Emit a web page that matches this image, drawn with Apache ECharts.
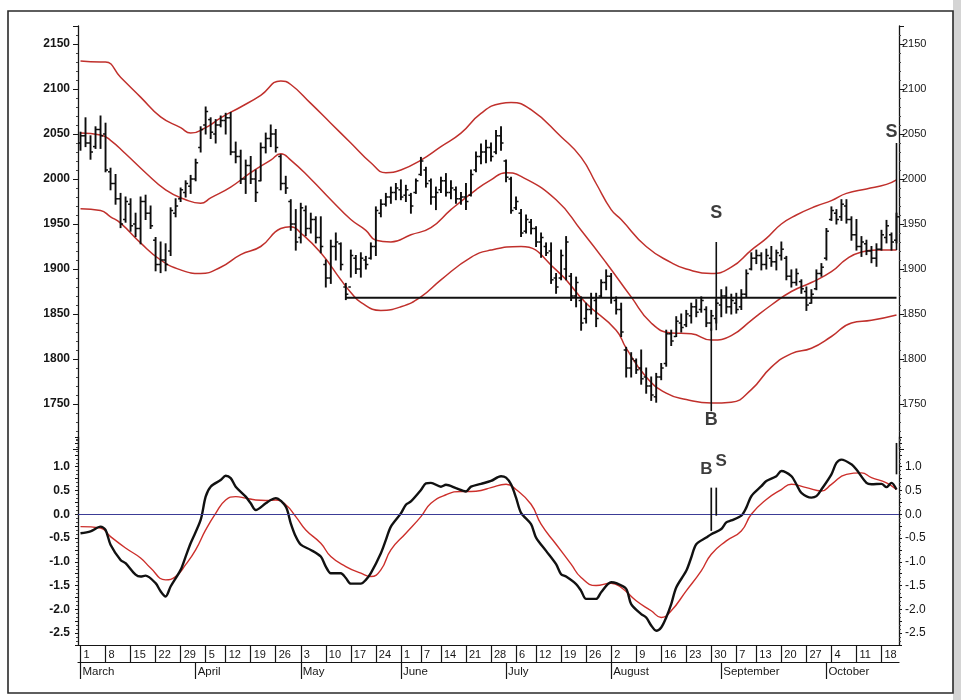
<!DOCTYPE html>
<html><head><meta charset="utf-8">
<script src="https://cdn.jsdelivr.net/npm/echarts@6/dist/echarts.min.js"></script>
<style>html,body{margin:0;padding:0;background:#fff}#c{width:961px;height:700px}</style>
</head><body><div id="c"></div>
<script>
// ---- categories: trading days (2004) ----
const dates = [
'3/1','3/2','3/3','3/4','3/5','3/8','3/9','3/10','3/11','3/12','3/15','3/16','3/17','3/18','3/19','3/22','3/23','3/24','3/25','3/26','3/29','3/30','3/31',
'4/1','4/2','4/5','4/6','4/7','4/8','4/12','4/13','4/14','4/15','4/16','4/19','4/20','4/21','4/22','4/23','4/26','4/27','4/28','4/29','4/30',
'5/3','5/4','5/5','5/6','5/7','5/10','5/11','5/12','5/13','5/14','5/17','5/18','5/19','5/20','5/21','5/24','5/25','5/26','5/27','5/28',
'6/1','6/2','6/3','6/4','6/7','6/8','6/9','6/10','6/14','6/15','6/16','6/17','6/18','6/21','6/22','6/23','6/24','6/25','6/28','6/29','6/30',
'7/1','7/2','7/6','7/7','7/8','7/9','7/12','7/13','7/14','7/15','7/16','7/19','7/20','7/21','7/22','7/23','7/26','7/27','7/28','7/29','7/30',
'8/2','8/3','8/4','8/5','8/6','8/9','8/10','8/11','8/12','8/13','8/16','8/17','8/18','8/19','8/20','8/23','8/24','8/25','8/26','8/27','8/30','8/31',
'9/1','9/2','9/3','9/7','9/8','9/9','9/10','9/13','9/14','9/15','9/16','9/17','9/20','9/21','9/22','9/23','9/24','9/27','9/28','9/29','9/30',
'10/1','10/4','10/5','10/6','10/7','10/8','10/11','10/12','10/13','10/14','10/15','10/18','10/19','10/20','10/21'
];
const monthNames = ['January','February','March','April','May','June','July','August','September','October','November','December'];

// ---- price bars ----
const opens = [2040,2048,2040,2036,2055,2050,2008,1995,1978,1955,1972,1950,1945,1975,1962,1932,1905,1910,1920,1962,1978,1985,1992,2000,2035,2060,2066,2050,2060,2065,
2068,2030,2025,2000,2015,2000,1998,2035,2045,2050,2025,1995,1975,1950,1935,1965,1945,1955,1935,1905,1890,1925,1928,1880,1880,1912,1900,1910,1912,1925,
1962,1972,1980,1985,1988,1982,1982,1985,2005,2010,1998,1980,1988,1998,1985,1988,1978,1980,1982,2010,2025,2030,2035,2030,2048,2020,2000,1968,1962,1942,
1952,1945,1930,1925,1920,1890,1890,1900,1892,1870,1865,1845,1855,1865,1870,1885,1892,1865,1855,1810,1790,1798,1790,1780,1770,1758,1780,1795,1828,1825,
1840,1838,1848,1858,1855,1855,1840,1845,1860,1870,1858,1862,1858,1872,1900,1912,1915,1905,1912,1908,1915,1912,1892,1885,1886,1875,1862,1878,1895,1912,
1955,1962,1958,1970,1955,1938,1925,1928,1920,1912,1922,1935,1938,1932];
const highs = [2052,2068,2048,2058,2070,2062,2012,2005,1984,1980,1978,1962,1980,1982,1970,1935,1930,1928,1968,1978,1990,1998,2004,2022,2058,2080,2068,2066,2070,2073,
2074,2041,2032,2021,2025,2010,2040,2051,2060,2055,2027,2003,1977,1966,1973,1970,1962,1958,1958,1910,1932,1940,1929,1884,1921,1915,1918,1914,1929,1969,
1977,1984,1991,1995,1999,1993,1984,2000,2024,2013,2000,1991,2002,2006,1998,1991,1985,1995,2010,2030,2039,2043,2040,2054,2058,2021,2002,1980,1966,1960,
1955,1947,1940,1929,1929,1895,1921,1936,1895,1891,1869,1862,1873,1873,1888,1899,1895,1869,1862,1813,1807,1800,1810,1790,1780,1784,1795,1832,1832,1847,
1850,1854,1862,1866,1869,1858,1854,1866,1877,1880,1872,1873,1877,1899,1918,1921,1918,1922,1925,1921,1930,1914,1899,1900,1888,1880,1877,1899,1906,1945,
1969,1966,1977,1977,1958,1955,1936,1932,1925,1928,1943,1954,1940,1962];
const lows = [2032,2036,2022,2034,2034,2008,1988,1972,1946,1952,1942,1936,1928,1955,1945,1898,1896,1898,1915,1958,1975,1980,1984,1998,2030,2050,2045,2040,2058,2050,
2027,2018,1995,1984,1995,1975,1998,2029,2036,2030,1988,1984,1943,1921,1929,1937,1940,1929,1918,1880,1884,1910,1899,1866,1891,1895,1891,1900,1911,1915,
1958,1970,1973,1977,1977,1975,1962,1984,2004,1991,1972,1966,1985,1981,1978,1973,1972,1966,1981,2008,2017,2018,2020,2028,2032,1997,1962,1966,1936,1940,
1939,1925,1913,1915,1884,1873,1888,1888,1865,1858,1832,1840,1850,1836,1869,1877,1862,1850,1825,1780,1780,1784,1772,1762,1754,1752,1777,1792,1815,1825,
1830,1836,1840,1847,1852,1836,1832,1840,1847,1851,1850,1851,1855,1869,1899,1906,1899,1900,1903,1899,1910,1888,1880,1882,1873,1854,1862,1877,1892,1910,
1954,1950,1954,1951,1932,1921,1914,1916,1907,1903,1921,1929,1921,1929];
const closes = [2048,2040,2030,2055,2048,2010,1995,1978,1950,1975,1948,1945,1975,1962,1948,1905,1910,1905,1965,1970,1988,1995,2000,2018,2055,2075,2052,2060,2065,2068,
2030,2025,2000,2015,2000,1985,2035,2045,2050,2035,1995,1990,1950,1930,1968,1945,1955,1935,1925,1890,1925,1930,1905,1872,1915,1900,1912,1905,1925,1965,
1972,1980,1985,1990,1980,1988,1970,1998,2020,1995,1980,1985,1998,1985,1990,1978,1980,1975,2005,2025,2030,2035,2025,2048,2040,2002,1965,1975,1940,1955,
1945,1930,1935,1918,1888,1880,1915,1930,1870,1885,1840,1855,1868,1845,1885,1892,1868,1855,1830,1790,1800,1788,1778,1770,1760,1780,1790,1828,1820,1842,
1835,1850,1858,1852,1865,1840,1848,1862,1870,1858,1865,1855,1872,1895,1912,1915,1905,1915,1908,1918,1922,1892,1885,1895,1878,1860,1872,1895,1902,1942,
1965,1955,1972,1955,1938,1925,1930,1920,1912,1922,1938,1948,1930,1958];

// ---- envelope bands [dayIndex, value] ----
const upperBand = [[0,2131],[4,2130],[5,2130],[8,2113],[12,2091],[16,2069],[20,2057],[22,2051],[25,2057],[28,2068],[32,2080],[36,2093],[40,2109],[42,2105],[46,2084],[50,2062],[54,2040],[58,2018],[61,2007],[64,2010],[68,2021],[72,2036],[76,2051],[80,2073],[84,2084],[86,2085],[90,2077],[96,2047],[100,2024],[103,1995],[106,1966],[108,1955],[113,1925],[118,1907],[121,1900],[126,1895],[130,1902],[134,1921],[137,1934],[140,1950],[143,1960],[147,1970],[150,1976],[153,1984],[157,1989],[161,1994],[163,1999]];
const middleBand = [[0,2051],[4,2049],[6,2043],[9,2028],[13,2007],[17,1988],[21,1977],[24,1973],[26,1979],[30,1991],[34,2007],[38,2021],[40,2028],[42,2021],[46,2000],[50,1977],[54,1955],[57,1943],[59,1932],[62,1930],[66,1938],[70,1946],[74,1966],[79,1988],[82,1999],[85,2007],[88,2003],[95,1977],[100,1943],[105,1907],[110,1869],[114,1840],[118,1829],[122,1828],[126,1821],[130,1826],[134,1843],[138,1860],[142,1875],[146,1885],[150,1897],[153,1911],[156,1919],[159,1921],[163,1921]];
const lowerBand = [[0,1967],[4,1965],[6,1958],[8,1951],[12,1929],[16,1910],[20,1899],[24,1895],[28,1902],[32,1916],[36,1925],[40,1945],[42,1947],[44,1940],[48,1918],[52,1888],[54,1874],[56,1863],[60,1854],[64,1858],[68,1869],[72,1888],[78,1913],[82,1921],[88,1925],[95,1899],[101,1862],[107,1832],[109,1812],[113,1780],[117,1762],[121,1755],[126,1751],[130,1752],[134,1766],[138,1791],[142,1806],[146,1812],[150,1825],[154,1840],[158,1843],[163,1849]];
const supportLine = [[53,1868],[163,1868]];

// ---- oscillator [dayIndex, value] ----
const oscFast = [[0,-0.40],[2,-0.36],[4,-0.26],[5,-0.33],[6,-0.64],[8,-0.96],[9,-1.03],[11,-1.27],[12,-1.31],[13,-1.29],[15,-1.45],[16,-1.62],[17,-1.73],[18,-1.52],[20,-1.17],[21,-0.89],[22,-0.61],[24,-0.12],[25,0.37],[26,0.58],[28,0.72],[29,0.81],[30,0.76],[31,0.58],[33,0.37],[34,0.23],[35,0.09],[37,0.23],[38,0.30],[39,0.34],[41,0.16],[42,-0.19],[43,-0.47],[44,-0.64],[46,-0.75],[48,-0.89],[49,-1.10],[50,-1.24],[52,-1.24],[53,-1.34],[54,-1.46],[56,-1.46],[57,-1.38],[58,-1.24],[60,-0.82],[61,-0.54],[62,-0.26],[64,0.02],[65,0.20],[66,0.27],[68,0.51],[69,0.65],[70,0.66],[72,0.58],[73,0.62],[75,0.55],[77,0.48],[78,0.58],[80,0.64],[82,0.70],[84,0.80],[85,0.77],[86,0.63],[87,0.35],[88,0.03],[90,-0.21],[91,-0.49],[93,-0.77],[95,-1.05],[96,-1.26],[97,-1.31],[99,-1.47],[100,-1.61],[101,-1.78],[103,-1.78],[104,-1.64],[106,-1.43],[107,-1.45],[109,-1.57],[110,-1.89],[112,-2.10],[113,-2.17],[114,-2.34],[115,-2.45],[116,-2.38],[117,-2.17],[118,-1.89],[119,-1.54],[121,-1.19],[122,-0.91],[123,-0.63],[125,-0.49],[126,-0.42],[128,-0.31],[129,-0.17],[130,-0.13],[132,-0.03],[133,0.14],[134,0.38],[136,0.59],[137,0.70],[139,0.80],[140,0.91],[142,0.80],[143,0.63],[144,0.45],[146,0.35],[147,0.38],[148,0.52],[150,0.84],[151,1.08],[152,1.15],[154,1.05],[155,0.94],[157,0.66],[158,0.63],[160,0.64],[161,0.57],[162,0.66],[163,0.52]];
const oscSlow = [[0,-0.26],[4,-0.29],[6,-0.47],[9,-0.71],[12,-0.92],[14,-1.13],[17,-1.38],[19,-1.31],[21,-1.06],[23,-0.75],[25,-0.33],[27,0.02],[29,0.30],[31,0.37],[33,0.34],[35,0.30],[37,0.29],[39,0.30],[41,0.20],[43,-0.05],[45,-0.33],[48,-0.61],[50,-0.89],[53,-1.10],[56,-1.24],[58,-1.31],[60,-1.17],[62,-0.75],[65,-0.40],[68,-0.05],[70,0.23],[73,0.41],[76,0.48],[78,0.48],[80,0.50],[82,0.56],[85,0.63],[87,0.52],[90,0.21],[92,-0.21],[95,-0.63],[98,-1.05],[100,-1.33],[103,-1.50],[106,-1.45],[108,-1.54],[111,-1.82],[114,-2.03],[116,-2.17],[118,-2.03],[121,-1.61],[124,-1.19],[126,-0.84],[129,-0.56],[132,-0.35],[134,0.00],[137,0.31],[140,0.52],[142,0.63],[145,0.56],[148,0.49],[150,0.63],[153,0.84],[156,0.87],[158,0.77],[161,0.66],[163,0.52]];

// ---- buy / sell signals ----
const priceSignalLines = [[126,1834,1742],[127,1930,1832],[163,1921,2040]];
const priceSignalText = [['B',126,1732],['S',127,1962],['S',162,2052]];
const oscSignalLines = [[126,0.56,-0.35],[127,0.56,-0.03],[163,1.50,0.84]];
const oscSignalText = [['B',125,0.95],['S',128,1.12]];

// ---- tick labels ----
const priceTicks = [1750,1800,1850,1900,1950,2000,2050,2100,2150];
const oscTicks = [-2.5,-2.0,-1.5,-1.0,-0.5,0.0,0.5,1.0];

function md(s){const p=s.split('/');return [+p[0],+p[1]];}
function dnum(s){const a=md(s);return new Date(2004,a[0]-1,a[1]);}
function isWeekStart(i){
  if(i===0) return true;
  const a=dnum(dates[i]), b=dnum(dates[i-1]);
  return a.getDay()<=b.getDay() || (a-b)>=7*864e5;
}
function isMonthStart(i){ return i===0 || md(dates[i])[0]!==md(dates[i-1])[0]; }

const FONT='Liberation Sans, Arial, sans-serif';
const INK='#161616';

function vline(color,width){
  return function(params,api){
    const i=api.value(0);
    const a=api.coord([i,api.value(1)]), b=api.coord([i,api.value(2)]);
    return {type:'line',shape:{x1:a[0],y1:a[1],x2:b[0],y2:b[1]},style:{stroke:color,lineWidth:width}};
  };
}

const chart = echarts.init(document.getElementById('c'), null, {renderer:'canvas'});
const ohlc = dates.map((d,i)=>[i,opens[i],highs[i],lows[i],closes[i]]);

const yCommon = {
  axisLine:{show:true,lineStyle:{color:INK,width:1.3}},
  splitLine:{show:false},
  minorSplitLine:{show:false}
};

chart.setOption({
  animation:false,
  backgroundColor:'#ffffff',
  graphic:[
    {type:'rect',shape:{x:953,y:0,width:8,height:700},style:{fill:'#d4d4d4'},silent:true,z:-1},
    {type:'rect',shape:{x:8,y:11,width:945,height:682},style:{fill:'none',stroke:'#2a2a2a',lineWidth:1.6},silent:true}
  ],
  grid:[
    {left:78,right:62,top:26,height:423},
    {left:78,right:62,top:437,height:208}
  ],
  xAxis:[
    {gridIndex:0,type:'category',data:dates,show:false,boundaryGap:true},
    {gridIndex:1,type:'category',data:dates,boundaryGap:true,position:'bottom',
      axisLine:{show:true,onZero:false,lineStyle:{color:INK,width:1.2}},
      axisTick:{show:true,alignWithLabel:true,interval:(i)=>isWeekStart(i),length:17,lineStyle:{color:INK,width:1.2}},
      axisLabel:{show:true,interval:(i)=>isWeekStart(i),formatter:(v)=>String(md(v)[1]),align:'left',padding:[0,0,0,3],margin:4,fontSize:11,fontFamily:FONT,color:INK}
    },
    {gridIndex:1,type:'category',data:dates,boundaryGap:true,position:'bottom',offset:17,
      axisLine:{show:true,onZero:false,lineStyle:{color:INK,width:1.2}},
      axisTick:{show:true,alignWithLabel:true,interval:(i)=>isMonthStart(i),length:17,lineStyle:{color:INK,width:1.2}},
      axisLabel:{show:true,interval:(i)=>isMonthStart(i),formatter:(v)=>monthNames[md(v)[0]-1],align:'left',padding:[0,0,0,2],margin:4,fontSize:11.5,fontFamily:FONT,color:INK}
    }
  ],
  yAxis:[
    Object.assign({gridIndex:0,type:'value',position:'left',min:1700,max:2170,interval:50,
      axisTick:{show:true,length:5,lineStyle:{color:INK}},
      minorTick:{show:true,splitNumber:5,length:2,lineStyle:{color:'#444'}},
      axisLabel:{margin:8,fontSize:12,fontWeight:'bold',fontFamily:FONT,color:INK,showMaxLabel:false,
        formatter:(v)=>priceTicks.indexOf(v)>=0?String(v):''}},yCommon),
    Object.assign({gridIndex:0,type:'value',position:'right',min:1700,max:2170,interval:50,
      axisTick:{show:true,length:5,lineStyle:{color:INK}},
      minorTick:{show:true,splitNumber:5,length:2,lineStyle:{color:'#444'}},
      axisLabel:{margin:3,fontSize:11,fontFamily:FONT,color:INK,showMaxLabel:false,
        formatter:(v)=>priceTicks.indexOf(v)>=0?String(v):''}},yCommon),
    Object.assign({gridIndex:1,type:'value',position:'left',min:-2.75,max:1.625,interval:0.25,
      axisTick:{show:true,length:3,lineStyle:{color:INK}},
      minorTick:{show:true,splitNumber:3,length:2,lineStyle:{color:'#444'}},
      axisLabel:{margin:8,fontSize:12,fontWeight:'bold',fontFamily:FONT,color:INK,showMaxLabel:false,showMinLabel:false,
        formatter:(v)=>{const r=Math.round(v*100)/100;return oscTicks.indexOf(r)>=0?r.toFixed(1):'';}}},yCommon),
    Object.assign({gridIndex:1,type:'value',position:'right',min:-2.75,max:1.625,interval:0.25,
      axisTick:{show:true,length:3,lineStyle:{color:INK}},
      minorTick:{show:true,splitNumber:3,length:2,lineStyle:{color:'#444'}},
      axisLabel:{margin:6,fontSize:12,fontFamily:FONT,color:INK,showMaxLabel:false,showMinLabel:false,
        formatter:(v)=>{const r=Math.round(v*100)/100;return oscTicks.indexOf(r)>=0?r.toFixed(1):'';}}},yCommon)
  ],
  series:[
    {type:'line',name:'upper',xAxisIndex:0,yAxisIndex:0,data:upperBand,smooth:0.5,showSymbol:false,lineStyle:{color:'#c0302c',width:1.5},z:2},
    {type:'line',name:'middle',xAxisIndex:0,yAxisIndex:0,data:middleBand,smooth:0.5,showSymbol:false,lineStyle:{color:'#c0302c',width:1.5},z:2},
    {type:'line',name:'lower',xAxisIndex:0,yAxisIndex:0,data:lowerBand,smooth:0.5,showSymbol:false,lineStyle:{color:'#c0302c',width:1.5},z:2},
    {type:'line',name:'support',xAxisIndex:0,yAxisIndex:0,data:supportLine,showSymbol:false,lineStyle:{color:'#111',width:2},z:3},
    {type:'custom',name:'price',xAxisIndex:0,yAxisIndex:0,data:ohlc,encode:{x:0,y:[1,2,3,4]},z:4,
      renderItem:function(params,api){
        const i=api.value(0);
        const o=api.coord([i,api.value(1)]), h=api.coord([i,api.value(2)]),
              l=api.coord([i,api.value(3)]), c=api.coord([i,api.value(4)]);
        const x=h[0];
        return {type:'group',children:[
          {type:'line',shape:{x1:x,y1:h[1]-0.5,x2:x,y2:l[1]+0.5},style:{stroke:'#0d0d0d',lineWidth:1.9}},
          {type:'line',shape:{x1:x-2.5,y1:o[1],x2:x,y2:o[1]},style:{stroke:'#0d0d0d',lineWidth:1.5}},
          {type:'line',shape:{x1:x,y1:c[1],x2:x+2.5,y2:c[1]},style:{stroke:'#0d0d0d',lineWidth:1.5}}
        ]};
      }},
    {type:'custom',name:'priceSignals',xAxisIndex:0,yAxisIndex:0,data:priceSignalLines,encode:{x:0,y:[1,2]},z:5,renderItem:vline('#111',1.6)},
    {type:'scatter',name:'priceSignalText',xAxisIndex:0,yAxisIndex:0,symbolSize:0,z:6,
      data:priceSignalText.map(t=>({value:[t[1],t[2]],name:t[0]})),
      label:{show:true,position:'inside',formatter:(p)=>p.name,fontSize:18,fontWeight:'bold',fontFamily:FONT,color:'#0d0d0d'}},
    {type:'line',name:'oscSlow',xAxisIndex:1,yAxisIndex:2,data:oscSlow,smooth:0.5,showSymbol:false,lineStyle:{color:'#cc2f2b',width:1.4},z:3,
      markLine:{silent:true,symbol:'none',label:{show:false},lineStyle:{color:'#3c3c96',width:1.2,type:'solid'},data:[{yAxis:0}]}},
    {type:'line',name:'oscFast',xAxisIndex:1,yAxisIndex:2,data:oscFast,smooth:0.3,showSymbol:false,lineStyle:{color:'#111',width:2.4},z:4},
    {type:'custom',name:'oscSignals',xAxisIndex:1,yAxisIndex:2,data:oscSignalLines,encode:{x:0,y:[1,2]},z:5,renderItem:vline('#111',1.7)},
    {type:'scatter',name:'oscSignalText',xAxisIndex:1,yAxisIndex:2,symbolSize:0,z:6,
      data:oscSignalText.map(t=>({value:[t[1],t[2]],name:t[0]})),
      label:{show:true,position:'inside',formatter:(p)=>p.name,fontSize:17,fontWeight:'bold',fontFamily:FONT,color:'#0d0d0d'}}
  ]
});
</script></body></html>
